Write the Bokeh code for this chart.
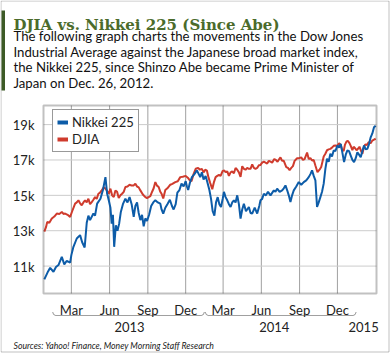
import numpy as np
import pandas as pd
from bokeh.plotting import figure
from bokeh.core.properties import value
from bokeh.models import (ColumnDataSource, Label, Legend, LegendItem, PolyAnnotation,
                          BoxAnnotation, Range1d)
from bokeh.embed import file_html
from bokeh.resources import INLINE

# ---------------- data (values in thousands of index points) ----------------
nikkei_dates = [
    "2012-12-26", "2013-01-04", "2013-01-09", "2013-01-17", "2013-01-23", "2013-01-29",
    "2013-02-06", "2013-02-12", "2013-02-18", "2013-02-26", "2013-03-01", "2013-03-06",
    "2013-03-14", "2013-03-22", "2013-03-27", "2013-04-02", "2013-04-07", "2013-04-11",
    "2013-04-15", "2013-04-23", "2013-04-27", "2013-05-02", "2013-05-10", "2013-05-16",
    "2013-05-22", "2013-05-26", "2013-05-30", "2013-06-03", "2013-06-06", "2013-06-09",
    "2013-06-12", "2013-06-16", "2013-06-20", "2013-06-24", "2013-06-28", "2013-07-03",
    "2013-07-09", "2013-07-14", "2013-07-19", "2013-07-24", "2013-07-29", "2013-08-02",
    "2013-08-06", "2013-08-10", "2013-08-14", "2013-08-18", "2013-08-22", "2013-08-26",
    "2013-08-30", "2013-09-04", "2013-09-09", "2013-09-14", "2013-09-19", "2013-09-25",
    "2013-10-01", "2013-10-04", "2013-10-08", "2013-10-13", "2013-10-18", "2013-10-24",
    "2013-10-29", "2013-11-02", "2013-11-07", "2013-11-11", "2013-11-16", "2013-11-21",
    "2013-11-26", "2013-12-01", "2013-12-04", "2013-12-07", "2013-12-11", "2013-12-16",
    "2013-12-22", "2013-12-28", "2014-01-05", "2014-01-09", "2014-01-13", "2014-01-18",
    "2014-01-22", "2014-01-27", "2014-01-31", "2014-02-04", "2014-02-08", "2014-02-12",
    "2014-02-16", "2014-02-20", "2014-02-24", "2014-02-28", "2014-03-03", "2014-03-07",
    "2014-03-11", "2014-03-15", "2014-03-19", "2014-03-23", "2014-03-27", "2014-03-31",
    "2014-04-04", "2014-04-08", "2014-04-12", "2014-04-16", "2014-04-20", "2014-04-25",
    "2014-05-02", "2014-05-06", "2014-05-10", "2014-05-16", "2014-05-22", "2014-05-27",
    "2014-05-30", "2014-06-03", "2014-06-07", "2014-06-12", "2014-06-17", "2014-06-23",
    "2014-07-01", "2014-07-05", "2014-07-09", "2014-07-15", "2014-07-21", "2014-07-25",
    "2014-07-29", "2014-08-02", "2014-08-06", "2014-08-10", "2014-08-14", "2014-08-18",
    "2014-08-24", "2014-08-30", "2014-09-05", "2014-09-11", "2014-09-17", "2014-09-23",
    "2014-09-27", "2014-10-01", "2014-10-05", "2014-10-09", "2014-10-13", "2014-10-17",
    "2014-10-21", "2014-10-25", "2014-10-29", "2014-11-02", "2014-11-06", "2014-11-10",
    "2014-11-14", "2014-11-18", "2014-11-22", "2014-11-26", "2014-12-01", "2014-12-05",
    "2014-12-09", "2014-12-13", "2014-12-17", "2014-12-21", "2014-12-25", "2014-12-29",
    "2015-01-02", "2015-01-06", "2015-01-10", "2015-01-14", "2015-01-18", "2015-01-22",
    "2015-01-26", "2015-01-30", "2015-02-03", "2015-02-07", "2015-02-11", "2015-02-15",
    "2015-02-19", "2015-02-23", "2015-02-27", "2015-03-03",
]
nikkei_values = [
    10.25, 10.70, 10.90, 10.68, 10.95, 11.06,
    11.52, 11.10, 11.30, 11.20, 11.62, 12.09,
    12.56, 12.75, 12.35, 12.05, 13.45, 13.85,
    13.60, 13.97, 13.85, 14.53, 14.81, 15.30,
    16.03, 15.10, 14.72, 14.30, 13.40, 13.90,
    12.09, 13.30, 13.00, 13.40, 14.06, 14.50,
    14.81, 14.60, 14.90, 14.50, 13.78, 14.40,
    14.60, 14.00, 13.60, 13.90, 13.25, 13.70,
    13.55, 13.90, 14.40, 14.60, 14.72, 14.60,
    14.53, 14.20, 13.97, 14.30, 14.50, 14.75,
    14.40, 14.20, 14.50, 15.15, 15.30, 15.66,
    15.50, 15.80, 15.50, 15.30, 15.70, 16.03,
    16.20, 16.41, 16.03, 16.30, 15.90, 16.10,
    15.75, 15.30, 14.80, 14.10, 13.85, 14.60,
    14.90, 14.50, 14.34, 14.80, 15.20, 14.90,
    14.72, 14.50, 14.34, 14.60, 14.72, 14.60,
    15.00, 14.50, 13.69, 14.20, 14.53, 14.10,
    14.34, 14.00, 13.97, 14.30, 13.97, 14.40,
    14.72, 14.80, 15.09, 15.00, 15.20, 15.00,
    15.28, 15.20, 15.38, 15.20, 15.28, 15.40,
    15.56, 15.30, 15.00, 14.62, 15.00, 15.28,
    15.50, 15.75, 15.60, 15.75, 15.85, 16.03,
    16.20, 16.41, 16.10, 15.85, 14.34, 14.60,
    14.90, 15.20, 15.66, 16.50, 17.07, 16.90,
    17.35, 17.20, 17.54, 17.50, 17.82, 17.70,
    17.91, 17.40, 16.88, 17.30, 17.54, 17.50,
    17.25, 17.00, 16.88, 17.10, 17.44, 17.30,
    17.16, 17.50, 17.82, 17.60, 17.63, 17.90,
    18.28, 18.50, 18.85, 18.94,
]

djia_dates = [
    "2012-12-26", "2012-12-30", "2013-01-02", "2013-01-07", "2013-01-13", "2013-01-19",
    "2013-01-25", "2013-01-31", "2013-02-06", "2013-02-10", "2013-02-14", "2013-02-20",
    "2013-02-26", "2013-03-03", "2013-03-10", "2013-03-14", "2013-03-18", "2013-03-22",
    "2013-03-26", "2013-03-30", "2013-04-03", "2013-04-07", "2013-04-11", "2013-04-15",
    "2013-04-19", "2013-04-23", "2013-04-27", "2013-05-01", "2013-05-05", "2013-05-09",
    "2013-05-13", "2013-05-18", "2013-05-22", "2013-05-26", "2013-05-30", "2013-06-03",
    "2013-06-07", "2013-06-11", "2013-06-15", "2013-06-19", "2013-06-23", "2013-06-27",
    "2013-07-01", "2013-07-05", "2013-07-09", "2013-07-14", "2013-07-19", "2013-07-24",
    "2013-07-29", "2013-08-02", "2013-08-06", "2013-08-10", "2013-08-14", "2013-08-20",
    "2013-08-26", "2013-08-30", "2013-09-03", "2013-09-07", "2013-09-11", "2013-09-15",
    "2013-09-19", "2013-09-23", "2013-09-27", "2013-10-01", "2013-10-04", "2013-10-08",
    "2013-10-13", "2013-10-18", "2013-10-25", "2013-10-30", "2013-11-06", "2013-11-12",
    "2013-11-18", "2013-11-24", "2013-12-01", "2013-12-06", "2013-12-11", "2013-12-15",
    "2013-12-20", "2013-12-25", "2013-12-31", "2014-01-04", "2014-01-09", "2014-01-13",
    "2014-01-17", "2014-01-21", "2014-01-25", "2014-01-29", "2014-02-03", "2014-02-07",
    "2014-02-11", "2014-02-15", "2014-02-19", "2014-02-23", "2014-02-28", "2014-03-04",
    "2014-03-07", "2014-03-11", "2014-03-15", "2014-03-19", "2014-03-23", "2014-03-27",
    "2014-03-31", "2014-04-04", "2014-04-08", "2014-04-12", "2014-04-16", "2014-04-20",
    "2014-04-24", "2014-04-28", "2014-05-02", "2014-05-06", "2014-05-10", "2014-05-14",
    "2014-05-18", "2014-05-22", "2014-05-26", "2014-05-30", "2014-06-03", "2014-06-07",
    "2014-06-11", "2014-06-15", "2014-06-19", "2014-06-23", "2014-06-27", "2014-07-02",
    "2014-07-06", "2014-07-10", "2014-07-14", "2014-07-17", "2014-07-21", "2014-07-25",
    "2014-07-31", "2014-08-04", "2014-08-08", "2014-08-12", "2014-08-16", "2014-08-20",
    "2014-08-26", "2014-08-31", "2014-09-05", "2014-09-09", "2014-09-13", "2014-09-19",
    "2014-09-23", "2014-09-27", "2014-10-01", "2014-10-05", "2014-10-09", "2014-10-14",
    "2014-10-19", "2014-10-23", "2014-10-29", "2014-11-02", "2014-11-06", "2014-11-10",
    "2014-11-14", "2014-11-18", "2014-11-22", "2014-11-26", "2014-12-01", "2014-12-05",
    "2014-12-09", "2014-12-12", "2014-12-16", "2014-12-19", "2014-12-23", "2014-12-26",
    "2014-12-30", "2015-01-02", "2015-01-06", "2015-01-09", "2015-01-13", "2015-01-16",
    "2015-01-20", "2015-01-23", "2015-01-27", "2015-01-30", "2015-02-03", "2015-02-06",
    "2015-02-10", "2015-02-14", "2015-02-19", "2015-02-23", "2015-02-27", "2015-03-03",
]
djia_values = [
    12.95, 13.20, 13.50, 13.45, 13.69, 13.80,
    13.97, 13.95, 14.06, 13.95, 13.97, 13.90,
    13.78, 14.10, 14.53, 14.60, 14.72, 14.55,
    14.44, 14.60, 14.72, 14.60, 14.81, 14.50,
    14.62, 14.75, 14.90, 14.80, 15.09, 15.15,
    15.28, 15.45, 15.38, 15.25, 15.09, 15.38,
    15.00, 14.90, 15.28, 15.20, 14.85, 15.00,
    15.09, 15.20, 15.47, 15.50, 15.60, 15.55,
    15.56, 15.66, 15.50, 15.45, 15.28, 15.05,
    14.90, 14.85, 14.90, 14.95, 15.19, 15.40,
    15.75, 15.55, 15.47, 15.20, 15.09, 14.82,
    15.30, 15.40, 15.60, 15.65, 15.75, 15.80,
    16.03, 16.05, 16.10, 16.00, 15.85, 15.80,
    16.20, 16.50, 16.55, 16.45, 16.50, 16.30,
    16.45, 16.40, 16.00, 15.70, 15.35, 15.75,
    16.03, 16.10, 16.15, 16.10, 16.38, 16.40,
    16.31, 16.35, 16.10, 16.30, 16.35, 16.25,
    16.55, 16.45, 16.30, 16.05, 16.65, 16.50,
    16.45, 16.55, 16.50, 16.50, 16.75, 16.55,
    16.50, 16.55, 16.70, 16.72, 16.85, 16.90,
    16.85, 16.80, 16.95, 16.90, 16.85, 17.05,
    17.00, 16.90, 17.05, 17.15, 16.95, 16.95,
    16.60, 16.55, 16.42, 16.55, 16.65, 16.95,
    17.10, 17.10, 17.15, 17.00, 17.05, 17.42,
    17.05, 17.10, 16.97, 17.00, 16.69, 16.31,
    16.45, 16.60, 17.20, 17.35, 17.55, 17.60,
    17.63, 17.70, 17.80, 17.82, 17.80, 17.95,
    17.85, 17.60, 17.50, 17.85, 18.05, 18.08,
    17.95, 17.80, 17.55, 17.75, 17.65, 17.55,
    17.65, 17.75, 17.50, 17.35, 17.75, 17.88,
    17.85, 18.00, 17.95, 18.10, 18.15, 18.20,
]

y_ticks = [11, 13, 15, 17, 19]
y_tick_labels = ["11k", "13k", "15k", "17k", "19k"]
month_ticks = ["2013-03-01", "2013-06-01", "2013-09-01", "2013-12-01",
               "2014-03-01", "2014-06-01", "2014-09-01", "2014-12-01"]
month_labels = ["Mar", "Jun", "Sep", "Dec", "Mar", "Jun", "Sep", "Dec"]
year_labels = ["2013", "2014", "2015"]
year_label_dates = ["2013-07-19", "2014-07-02", "2015-02-02"]
brace_spans = [("2013-01-15", "2014-01-15"), ("2014-01-17", "2015-01-15")]
series_names = ["Nikkei 225", "DJIA"]
date_window = ["2012-12-24", "2015-03-05"]
value_window = [9.45, 20.08]

title_text = "DJIA vs. Nikkei 225 (Since Abe)"
intro_lines = [
    "The following graph charts the movements in the Dow Jones",
    "Industrial Average against the Japanese broad market index,",
    "the Nikkei 225, since Shinzo Abe became Prime Minister of",
    "Japan on Dec. 26, 2012.",
]
source_text = "Sources: Yahoo! Finance, Money Morning Staff Research"

# ---------------- layout / styling ----------------
W, H = 390, 353
PL, PR, PT, PB = 43, 376, 105, 293          # plot-area box on the canvas (px)
BLUE = "#0d5ca8"
RED = "#cf3b2d"
GREEN = "#4b6b2b"
INK = "#222222"
FONT = "Lato"


def ms(d):
    return pd.Timestamp(d).value / 1e6


def sy(y_from_top):
    # annotation screen units: measured from the bottom of the canvas
    return H - y_from_top


X0, X1 = ms(date_window[0]), ms(date_window[1])
Y0, Y1 = value_window
dpp = (X1 - X0) / (PR - PL)
vpp = (Y1 - Y0) / (PB - PT)

p = figure(width=W, height=H, x_axis_location=None, y_axis_location=None,
           x_range=Range1d(X0 - PL * dpp, X1 + (W - PR) * dpp),
           y_range=Range1d(Y0 - (H - PB) * vpp, Y1 + PT * vpp),
           output_backend="svg", toolbar_location=None, min_border=0)
p.title.visible = False
p.background_fill_color = "white"
p.border_fill_color = "white"
p.outline_line_color = None
p.grid.visible = False

month_x = [ms(d) for d in month_ticks]

# grid lines inside the plot area
p.segment(x0=month_x, x1=month_x, y0=[Y0] * len(month_x), y1=[Y1] * len(month_x),
          line_color="#a0a0a0", line_width=1)
p.segment(x0=[X0] * len(y_ticks), x1=[X1] * len(y_ticks), y0=y_ticks, y1=y_ticks,
          line_color="#cccccc", line_width=1)

# series
djia_src = ColumnDataSource(dict(x=[ms(d) for d in djia_dates], y=djia_values))
nik_src = ColumnDataSource(dict(x=[ms(d) for d in nikkei_dates], y=nikkei_values))
p.line("x", "y", source=djia_src, line_color=RED, line_width=2)
p.line("x", "y", source=nik_src, line_color=BLUE, line_width=2)

# plot-area frame
p.add_layout(BoxAnnotation(left=X0, right=X1, bottom=Y0, top=Y1, fill_alpha=0,
                           line_color="#333333", line_width=2))

# tick labels
p.text(x=[X0] * len(y_ticks), y=y_ticks, text=y_tick_labels, x_offset=-9, y_offset=0.5,
       text_align="right", text_baseline="alphabetic", text_font=value(FONT),
       text_font_size=value("13px"), text_color=INK)
p.text(x=month_x, y=[Y0] * len(month_x), text=month_labels, y_offset=16,
       text_align="center", text_baseline="alphabetic", text_font=value(FONT),
       text_font_size=value("13px"), text_color=INK)
p.text(x=[ms(d) for d in year_label_dates], y=[Y0] * len(year_labels), text=year_labels,
       y_offset=33, text_align="center", text_baseline="alphabetic",
       text_font=value(FONT), text_font_size=value("13px"), text_color=INK)

# braces under the month labels
for a, b in brace_spans:
    t0, t1 = ms(a), ms(b)
    xs = [t0, t0 + 1 * dpp, t0 + 3 * dpp, t1 - 3 * dpp, t1 - 1 * dpp, t1]
    ys = [sy(311.5), sy(314), sy(315), sy(315), sy(314), sy(311.5)]
    p.add_layout(PolyAnnotation(xs=xs + xs[::-1], ys=ys + ys[::-1],
                                xs_units="data", ys_units="screen",
                                fill_alpha=0, line_color="#444444", line_width=1))

# legend with thick swatches (swatch renderers hold no visible point)
sw_n = p.line(x=[X0], y=np.array([np.nan]), line_color=BLUE, line_width=4)
sw_d = p.line(x=[X0], y=np.array([np.nan]), line_color=RED, line_width=4)
legend = Legend(items=[LegendItem(label=series_names[0], renderers=[sw_n]),
                       LegendItem(label=series_names[1], renderers=[sw_d])],
                location=(52, H - 152), margin=0, padding=4, spacing=1,
                label_height=14, glyph_height=14, glyph_width=11, label_standoff=4,
                label_text_font=FONT, label_text_font_size="13px",
                label_text_color=INK,
                border_line_color="#333333", border_line_width=1.5,
                background_fill_color="white", background_fill_alpha=1)
p.add_layout(legend)

# header: title + intro text
p.add_layout(Label(x=13, y=sy(24), x_units="screen", y_units="screen", text=title_text,
                   text_font="DejaVu Serif", text_font_style="bold", text_font_size="15px",
                   text_color=GREEN, text_baseline="alphabetic"))
for i, line in enumerate(intro_lines):
    p.add_layout(Label(x=13, y=sy(35.5 + 15.5 * i), x_units="screen", y_units="screen",
                       text=line, text_font=FONT, text_font_size="13.2px",
                       text_color="#111111", text_baseline="alphabetic"))
p.add_layout(Label(x=13, y=sy(344.5), x_units="screen", y_units="screen", text=source_text,
                   text_font=FONT, text_font_style="italic", text_font_size="8.7px",
                   text_color=INK, text_baseline="alphabetic"))

# outer border and green accent bar
p.add_layout(PolyAnnotation(xs=[0.5, W - 1.5, W - 1.5, 0.5],
                            ys=[sy(0.5), sy(0.5), sy(H - 1.5), sy(H - 1.5)],
                            xs_units="screen", ys_units="screen",
                            fill_alpha=0, line_color="#333333", line_width=1))
p.add_layout(PolyAnnotation(xs=[1, 4.5, 4.5, 1], ys=[sy(10), sy(10), sy(90), sy(90)],
                            xs_units="screen", ys_units="screen",
                            fill_color="#3d5a26", fill_alpha=1, line_color=None))

open("out.html", "w").write(file_html(p, INLINE))
